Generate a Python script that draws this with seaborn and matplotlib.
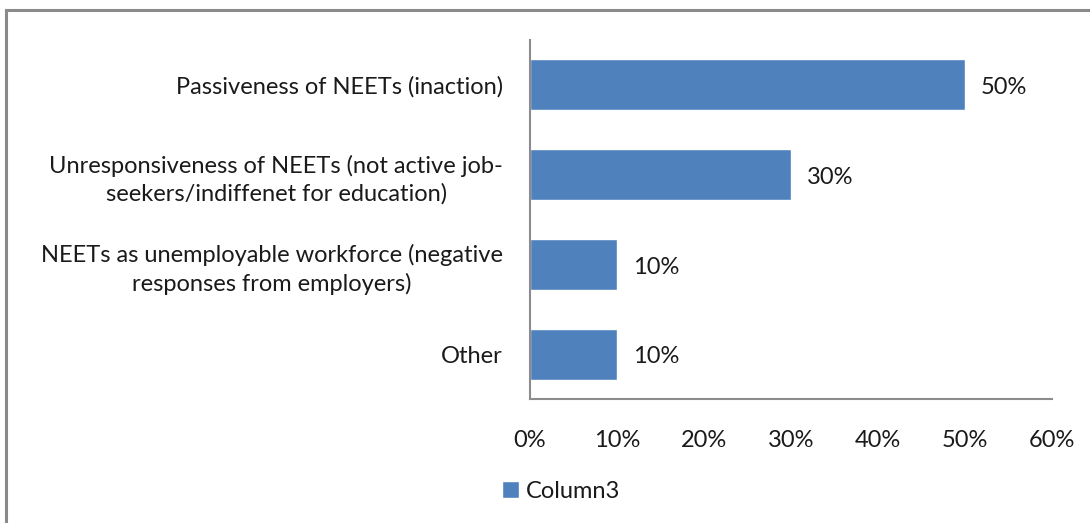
import matplotlib
matplotlib.use("Agg")
import matplotlib.pyplot as plt
from matplotlib.patches import Rectangle, Patch
from matplotlib.ticker import FuncFormatter
from matplotlib.transforms import Affine2D
import seaborn as sns
import pandas as pd

categories = [
    "Passiveness of NEETs (inaction)",
    "Unresponsiveness of NEETs (not active job-\nseekers/indiffenet for education)",
    "NEETs as unemployable workforce (negative\nresponses from employers)",
    "Other",
]
values = [50, 30, 10, 10]
series_name = "Column3"
x_ticks = [0, 10, 20, 30, 40, 50, 60]

sns.set_theme(style="white")
plt.rcParams["font.family"] = ["Lato", "DejaVu Sans"]

bar_color = "#4F81BD"
text_color = "#1a1a1a"
fs = 17

df = pd.DataFrame({"category": categories, "value": values})

fig = plt.figure(figsize=(10.9, 5.23), dpi=100)
ax = fig.add_axes([0.4862, 0.2371, 0.4789, 0.6864])

sns.barplot(data=df, x="value", y="category", color=bar_color, width=0.57,
            saturation=1, ax=ax, orient="h")

ax.set_xlim(0, 60)
ax.set_xticks(x_ticks)
ax.xaxis.set_major_formatter(FuncFormatter(lambda v, _: f"{v:.0f}%"))
ax.set_xlabel("")
ax.set_ylabel("")
ax.tick_params(axis="both", length=0, labelsize=fs, colors=text_color)
ax.tick_params(axis="x", pad=22)
ax.tick_params(axis="y", pad=24)
for lbl in ax.get_yticklabels():
    lbl.set_horizontalalignment("center")
    lbl.set_multialignment("center")
    lbl.set_linespacing(1.35)

for side in ["top", "right"]:
    ax.spines[side].set_visible(False)
for side in ["left", "bottom"]:
    ax.spines[side].set_color("#8c8c8c")
    ax.spines[side].set_linewidth(1.5)

for i, v in enumerate(values):
    ax.text(v + 1.8, i + 0.03, f"{v}%", va="center", ha="left", fontsize=fs, color=text_color)

# center-aligned category labels: shift so their right edges sit by the axis
fig.canvas.draw()
renderer = fig.canvas.get_renderer()
right_edge = 503
for lbl in ax.get_yticklabels():
    bb = lbl.get_window_extent(renderer)
    shift = right_edge - bb.x1
    lbl.set_transform(lbl.get_transform() + Affine2D().translate(shift, 0))

leg = fig.legend(handles=[Patch(facecolor=bar_color, label=series_name)],
                 loc="center", bbox_to_anchor=(0.515, 1 - 491 / 523),
                 frameon=False, fontsize=fs, handlelength=0.7, handleheight=0.7,
                 handletextpad=0.3)
for t in leg.get_texts():
    t.set_color(text_color)

# outer chart frame
fig.patches.append(Rectangle((6 / 1090, -0.1), 1.2, 1 - 10 / 523 + 0.1,
                             transform=fig.transFigure, fill=False,
                             edgecolor="#8a8a8a", linewidth=2.2, clip_on=False))

fig.savefig("out.png", dpi=100, facecolor="white")
